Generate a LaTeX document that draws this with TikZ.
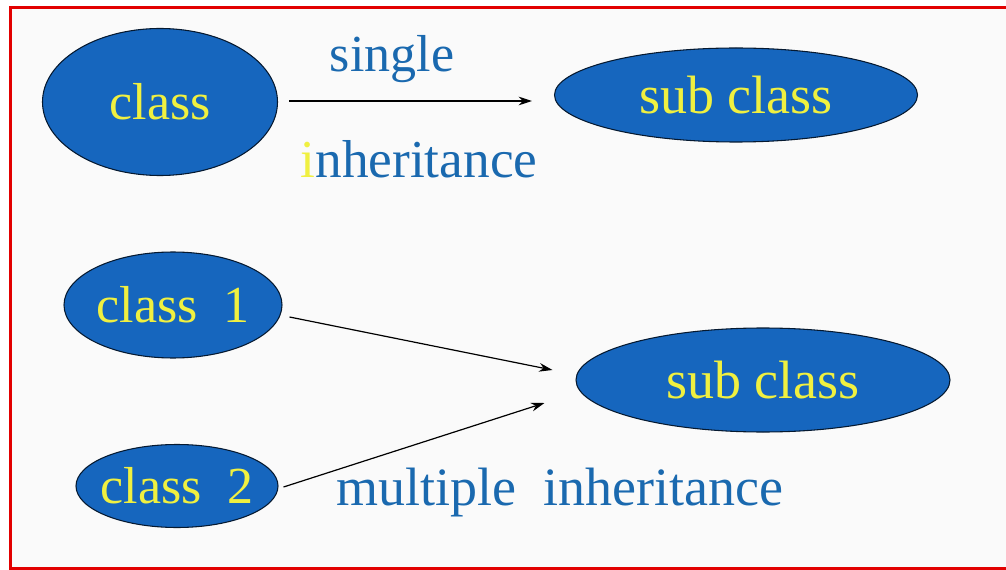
\documentclass[tikz,border=0pt]{standalone}
\usepackage{fontspec}
\setmainfont{Liberation Serif}
\usepackage{tikz}
\usetikzlibrary{calc, shapes.geometric, arrows.meta}

\definecolor{clsblue}{RGB}{22,102,190}
\definecolor{clsyellow}{RGB}{240,240,64}
\definecolor{lblblue}{RGB}{26,105,175}
\definecolor{framered}{RGB}{226,0,0}
\definecolor{paper}{RGB}{250,250,250}

\begin{document}
\begin{tikzpicture}[x=0.75pt, y=-0.75pt,
    cls/.style={ellipse, draw=black!75!clsblue, line width=0.8pt, fill=clsblue,
      text=clsyellow, inner sep=-8pt, font=\fontsize{39}{39}\selectfont},
    size/.style 2 args={minimum width=#1*0.75pt, minimum height=#2*0.75pt},
    lbl/.style={text=lblblue, anchor=base, inner sep=0pt, font=\fontsize{39}{39}\selectfont},
    inh/.style={line width=0.9pt, -{Stealth[length=10pt, width=6.5pt]}}]
        \useasboundingbox (0,0) rectangle (1006,570);
        % page and frame
        \fill[white] (0,0) rectangle (1006,570);
        \fill[paper] (10,8) rectangle (1006,568);
        \draw[framered, line width=2.25pt] (1006,8) -- (10,8) -- (10,568) -- (1006,568);
        % single inheritance
        \node[cls, size={235}{147}] (base) at (160,102) {class};
        \node[cls, size={363}{94}, font=\fontsize{40.5}{40.5}\selectfont] (sub1) at (736,95) {sub class};
        \node[lbl] (single) at (392,72) {single};
        \node[lbl, font=\fontsize{40}{40}\selectfont] (inh1) at (419,178) {{\color{clsyellow}i}nheritance};
        \coordinate (s0) at ($ (base.east) + (11,-1) $);
        \coordinate (s1) at ($ (sub1.west) + (-22,6) $);
        \draw[inh] (s0) -- (s1);
        % multiple inheritance
        \node[cls, size={218}{106}] (base1) at (173,305) {class\ \ 1};
        \node[cls, size={202}{83}] (base2) at (177,486) {class\ \ 2};
        \node[cls, size={374}{104}, font=\fontsize{40.5}{40.5}\selectfont] (sub2) at (763,380) {sub class};
        \node[lbl, font=\fontsize{40.5}{40.5}\selectfont] (inh2) at (560,505) {multiple\ \ inheritance};
        \coordinate (m0) at ($ (base1.east) + (7,12) $);
        \coordinate (m1) at ($ (sub2.west) + (-23,-10) $);
        \coordinate (n0) at ($ (base2.east) + (5,1) $);
        \coordinate (n1) at ($ (sub2.west) + (-31,23) $);
        \draw[inh] (m0) -- (m1);
        \draw[inh] (n0) -- (n1);
\end{tikzpicture}
\end{document}
